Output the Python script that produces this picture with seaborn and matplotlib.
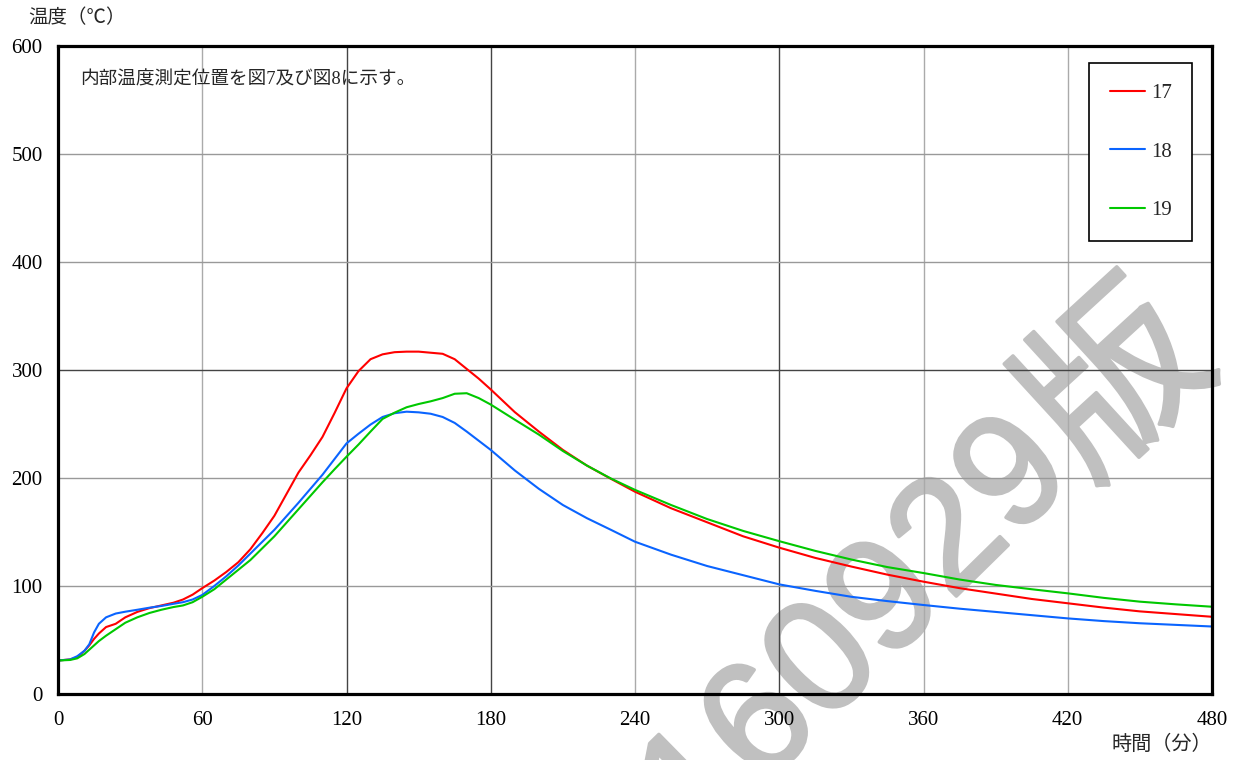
import matplotlib
matplotlib.use("Agg")
import matplotlib.pyplot as plt
import matplotlib.patheffects as pe
import seaborn as sns
import pandas as pd
import numpy as np
from matplotlib.ticker import MultipleLocator

# ---------------- data ----------------
time_min = [0, 5, 8, 11, 13, 15, 17, 20, 24, 28, 33, 38, 43, 48, 52, 56, 60, 65, 70, 75,
            80, 85, 90, 95, 100, 105, 110, 115, 120, 125, 130, 135, 140, 145, 150, 155,
            160, 165, 170, 175, 180, 190, 200, 210, 220, 230, 240, 255, 270, 285, 300,
            315, 330, 345, 360, 375, 390, 405, 420, 435, 450, 465, 480]

temp_17 = [31, 32, 34, 40, 45, 51, 56, 62, 65, 71, 76, 79.5, 82, 84.5, 87.5, 92, 98, 105, 113, 122,
           134, 149, 165, 185, 205, 221, 238, 260, 283, 299, 310, 314.5, 316.5, 317, 317, 316,
           315, 310, 301, 292, 282, 261, 243, 226, 211.5, 199.2, 187.3, 172, 159, 146, 135.5,
           126, 118, 110.5, 104, 98, 93, 88, 84, 80, 76.5, 74, 71.5]

temp_18 = [31, 32, 35, 40, 46, 57, 65, 71, 74.5, 76.2, 78, 79.9, 81.5, 83.5, 85, 87.5, 91.7, 100, 109, 119,
           130, 141, 152, 164.5, 177, 190, 203, 217.5, 232, 241, 249.5, 256.5, 260, 261.4, 260.8, 259.5,
           256.5, 251, 243, 234.5, 226, 207, 190, 175, 162.8, 152, 141, 129, 118.5, 110, 101.5,
           95.5, 90, 86, 82.4, 79, 76, 73, 70, 67.5, 65.5, 64, 62.5]

temp_19 = [31, 31.5, 33, 37, 41, 45, 49, 54, 60, 66, 71, 75, 78, 80.5, 82, 85, 90, 97, 106, 115,
           124, 135, 146, 158.5, 171, 183.5, 196, 208, 219.7, 231, 243, 254.7, 260.5, 265.5, 268.5, 271,
           274, 278, 278.5, 274, 268, 254, 240.2, 225, 211.5, 199.5, 189, 175, 162, 151, 141.5,
           132.5, 124.5, 117.5, 112, 106, 101, 97, 93.2, 89, 85.5, 83, 80.8]

series_names = ["17", "18", "19"]
series_colors = ["#ff0000", "#0a64ff", "#00c800"]
x_ticks = [0, 60, 120, 180, 240, 300, 360, 420, 480]
y_ticks = [0, 100, 200, 300, 400, 500, 600]

# ---------------- figure ----------------
sns.set_theme(style="white")
plt.rcParams["font.family"] = ["Liberation Serif", "Noto Sans CJK JP", "DejaVu Sans"]
plt.rcParams["axes.unicode_minus"] = False

df = pd.concat([
    pd.DataFrame({"時間": time_min, "温度": vals, "系列": name})
    for name, vals in zip(series_names, [temp_17, temp_18, temp_19])
], ignore_index=True)

W, H = 1242, 760
fig = plt.figure(figsize=(W / 100, H / 100), dpi=100)
ax = fig.add_axes([58 / W, 1 - 694 / H, 1154 / W, 648 / H])

sns.lineplot(data=df, x="時間", y="温度", hue="系列", palette=dict(zip(series_names, series_colors)),
             estimator=None, sort=False, linewidth=1.5, ax=ax, zorder=3)

ax.set_axisbelow(False)
ax.set_xlim(0, 480)
ax.set_ylim(0, 600)
ax.set_xticks(x_ticks)
ax.set_yticks(y_ticks)
ax.xaxis.set_minor_locator(MultipleLocator(15))
ax.yaxis.set_minor_locator(MultipleLocator(50))
ax.tick_params(axis="both", which="major", length=0, labelsize=15, colors="black")
ax.tick_params(axis="x", which="major", pad=12)
ax.tick_params(axis="y", which="major", pad=11)
ax.tick_params(axis="both", which="minor", direction="in", length=4, width=0.8, color="#555555")
ax.set_xlabel("")
ax.set_ylabel("")

# grid
ax.grid(True, which="major")
dark_x = {120, 180, 300}
for val, gl in zip(x_ticks, ax.get_xgridlines()):
    gl.set_linewidth(1.0)
    gl.set_color("#444444" if val in dark_x else "#aaaaaa")
for val, gl in zip(y_ticks, ax.get_ygridlines()):
    gl.set_linewidth(1.0)
    gl.set_color("#444444" if val == 300 else "#999999")

for sp in ax.spines.values():
    sp.set_visible(True)
    sp.set_color("black")
    sp.set_linewidth(2.3)
    sp.set_zorder(4)

# legend
handles, labels = ax.get_legend_handles_labels()
leg = ax.legend(handles, labels, loc="upper right", bbox_to_anchor=(0.983, 0.974),
                frameon=True, fancybox=False, edgecolor="black", framealpha=1,
                fontsize=15, labelspacing=1.86, borderpad=1.0, handlelength=1.7,
                handletextpad=0.25, borderaxespad=0)
leg.get_frame().set_linewidth(1.2)
leg.set_zorder(5)

# texts
ax.text((80 - 58) / 1154, 1 - (80 - 46) / 648, "内部温度測定位置を図7及び図8に示す。",
        transform=ax.transAxes, ha="left", va="center", fontsize=13.4)
fig.text(28 / W, 1 - 18 / H, "温度（℃）", ha="left", va="center", fontsize=14)
fig.text(1212 / W, 1 - 745 / H, "時間（分）", ha="right", va="center", fontsize=14.5)

# watermark (digits and the kanji drawn as two texts meeting at one anchor)
ang = 44.5
ux, uy = np.cos(np.radians(ang)), np.sin(np.radians(ang))
digit_pt = 115
digit_em = digit_pt * 100 / 72.0
a_x = 1005 + 0.278 * digit_em * ux
a_y = 467 - 0.278 * digit_em * uy
wm_fx = [pe.withStroke(linewidth=2.5, foreground="#c0c0c0")]
ax.text(a_x / W, 1 - a_y / H, "20160929", transform=fig.transFigure,
        rotation=ang, rotation_mode="anchor", ha="right", va="center_baseline",
        fontsize=digit_pt, color="#c0c0c0", path_effects=wm_fx,
        family=["Liberation Sans", "DejaVu Sans"], clip_on=False, zorder=1.5)
k_x, k_y = a_x + 6 * ux, a_y - 6 * uy
ax.text(k_x / W, 1 - k_y / H, "版", transform=fig.transFigure,
        rotation=ang - 2, rotation_mode="anchor", ha="left", va="center_baseline",
        fontsize=128, color="#c0c0c0", path_effects=wm_fx,
        family=["Noto Sans CJK JP"], clip_on=False, zorder=1.5)

fig.savefig("out.png", dpi=100)
